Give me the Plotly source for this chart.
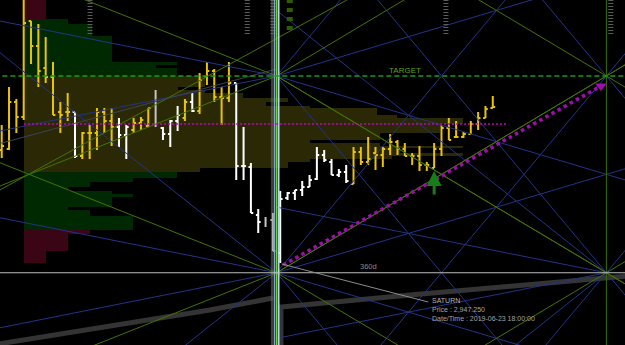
import plotly.graph_objects as go

# ---------------- DATA ----------------
bar_index = list(range(68))
bar_open = [3070,3071,3118,3103,3199,3174,3152,3143,3108,3108,
            3108,3064,3087,3087,3108,3099,3093,3085,3090,3097,
            3094,3112,3092,3086,3099,3102,3118,3109,3143,3149,
            3123,3122,3137,3054,3053,3005,2998,3000,2967,3022,
            3027,3030,3033,3041,3065,3058,3045,3048,3036,3068,
            3058,3067,3065,3071,3078,3071,3064,3064,3055,3052,
            3071,3092,3083,3083,3086,3096,3102,3112]
bar_high = [3095,3133,3121,3225,3199,3196,3183,3158,3118,3127,
            3108,3088,3095,3112,3112,3112,3102,3095,3102,3103,
            3112,3130,3093,3100,3114,3121,3127,3147,3158,3151,
            3133,3158,3137,3093,3057,3011,3003,3007,3029,3028,
            3030,3039,3045,3073,3070,3061,3051,3055,3073,3073,
            3083,3073,3073,3086,3080,3077,3067,3074,3058,3077,
            3095,3102,3099,3088,3099,3108,3114,3124]
bar_low = [3062,3070,3087,3100,3156,3133,3137,3105,3087,3099,
           3062,3061,3061,3070,3087,3074,3073,3061,3087,3090,
           3093,3093,3080,3073,3089,3099,3108,3106,3135,3118,
           3095,3118,3040,3040,3007,2987,2993,2969,2957,3020,
           3020,3024,3033,3040,3058,3045,3043,3037,3036,3055,
           3055,3050,3053,3065,3065,3064,3055,3049,3049,3052,
           3064,3080,3082,3082,3086,3090,3102,3112]
bar_close = [3074,3118,3103,3197,3174,3149,3143,3105,3105,3108,
             3064,3087,3087,3108,3099,3093,3085,3093,3097,3100,
             3112,3098,3086,3099,3105,3118,3109,3140,3149,3123,
             3122,3137,3054,3054,3007,2998,2998,2969,3021,3027,
             3030,3033,3040,3065,3060,3045,3048,3039,3068,3058,
             3061,3065,3071,3078,3071,3064,3064,3055,3055,3071,
             3092,3080,3083,3086,3096,3102,3111,3113]
bar_tone = list("YYYYYYYYYYWYYYYYWWYYYGWWWYWYYYYYWWWWGWWWWWWWWWWWYYYYYYYYYYYYYYYYYYYY")

# volume profile rows (price range, volume, zone)
profile_hi = [3225,3201,3196,3184,3158,3155,3152,
              3144,3133,3130,3127,3122,3118,3114,3112,3105,3102,3096,3087,3080,3077,3074,3072,3067,3064,3061,3058,3052,
              3048,3042,3038,3033,3029,3026,3023,3013,3010,3004,
              2990,2986,2969]
profile_lo = [3201,3196,3184,3158,3155,3152,3144,
              3133,3130,3127,3122,3118,3114,3112,3105,3102,3096,3087,3080,3077,3074,3072,3067,3064,3061,3058,3052,3048,
              3042,3038,3033,3029,3026,3023,3013,3010,3004,2990,
              2986,2969,2957]
profile_vol = [22,44,68,88,153,132,153,
               181,154,181,219,264,242,286,353,373,439,416,356,286,356,439,376,439,368,286,264,176,
               153,109,66,44,88,109,88,44,66,109,
               66,44,22]
profile_zone = ["R","G","G","G","G","G","G",
                "V","V","V","V","V","V","V","V","V","V","V","V","V","V","V","V","V","V","V","V","V",
                "G","G","G","G","G","G","G","G","G","G",
                "R","R","R"]
poc_price = 3096
poc_span = [3.05, 68.9]

# Gann box corners and ray ratios (left-going / right-going)
box_name = ["A", "B", "C", "D"]
box_idx = [37.5, 37.5, 82.5, 82.5]
box_price = [3144, 2947.25, 3144, 2947.25]
rays_left = {"A": [1/3, 2/3], "B": [1/3, 2/3, 4/3], "C": [1, 2], "D": [1/3, 1, 4/3, 2]}
rays_right = {"A": [1/2, 1, 2], "B": [1/2, 1, 2], "C": [1, 2], "D": [1, 2]}
green_ratios = [2/3, 1]

# other trendlines (x index, price)
trend_green_x = [-0.5, 47.1]
trend_green_y = [3029, 3220]
trend_gray_x = [-0.5, 37.5]
trend_gray_y = [3076, 3151]

target_price = 3144
saturn_price = 2947.25
cycle_idx = [37.5, 82.5]

# planetary (saturn) price line, two pieces
saturn_x1 = [-0.5, 28.4, 37.0]
saturn_y1 = [2876, 2910, 2922]
saturn_x2 = [38.1, 38.1, 55.7, 85.5]
saturn_y2 = [2870, 2913, 2925, 2944]

# top cycle markers
stripe_idx = [12.05, 33.5, 37.0, 60.6, 83.1]
green_mark_idx = [39.3]

# projection arrow
proj_x = [38.4, 81.75]
proj_y = [2955, 3134]
signal_idx = [59]
signal_price = [3049]

# ---------------- FIGURE ----------------
YEL = "#e9c20a"
WHT = "#ffffff"
GRY = "#c4c4c4"
BLUE = "#22338a"
GREEN = "#437400"
zone_col = {"R": "#3a0616", "G": "#012901", "V": "#2b2905"}

fig = go.Figure()

fig.add_trace(go.Bar(
    orientation="h",
    y=[(h + l) / 2 for h, l in zip(profile_hi, profile_lo)],
    width=[h - l for h, l in zip(profile_hi, profile_lo)],
    x=profile_vol,
    marker=dict(color=[zone_col[z] for z in profile_zone], line=dict(width=0)),
    xaxis="x", yaxis="y", hoverinfo="skip",
))

def line(x, y, color, width, dash=None):
    d = dict(color=color, width=width)
    if dash:
        d["dash"] = dash
    fig.add_trace(go.Scatter(x=x, y=y, mode="lines", line=d, xaxis="x2", hoverinfo="skip"))

# saturn thick line
line(saturn_x1, saturn_y1, "#343434", 5)
line(saturn_x2, saturn_y2, "#343434", 5)

# gann rays
x_lo, x_hi = -1.0, 86.0
s_unit = (box_price[0] - box_price[1]) / (box_idx[2] - box_idx[0])
segs = {"B": ([], []), "G": ([], [])}
for nm, cx, cy in zip(box_name, box_idx, box_price):
    for direction, ratios in ((-1, rays_left[nm]), (1, rays_right[nm])):
        if direction < 0:
            x_end = x_lo if cx < 50 else box_idx[0]
        else:
            x_end = x_hi
        for r in ratios:
            key = "G" if any(abs(r - g) < 1e-9 for g in green_ratios) else "B"
            for sgn in (1, -1):
                m = sgn * s_unit * r
                segs[key][0].extend([cx, x_end, None])
                segs[key][1].extend([cy, cy + m * (x_end - cx), None])
line(segs["B"][0], segs["B"][1], BLUE, 1)
line(segs["G"][0], segs["G"][1], GREEN, 1)
line(trend_green_x, trend_green_y, GREEN, 1)
line(trend_gray_x, trend_gray_y, "#3c4258", 1)

# top stripes
for sx in stripe_idx:
    line([sx, sx], [3220, 3185], "#5c5c5c", 5, "1px,2px")
for gx in green_mark_idx:
    line([gx, gx], [3221, 3185], "#2f5c00", 6, "4px,5px")

# cycle verticals
c0 = cycle_idx[0]
line([c0 - 0.5, c0 - 0.5], [2875, 3220], "rgba(110,110,110,0.55)", 4)
line([c0 - 0.28, c0 - 0.28], [2875, 3220], "#7ea6c6", 1)
line([c0, c0], [2875, 3220], "#74d034", 2)
line([c0 + 0.3, c0 + 0.3], [2875, 3220], "#b8d6ee", 1.5)
line([cycle_idx[1]] * 2, [2875, 3220], "#3b6e00", 1)

# horizontal levels
line([x_lo, x_hi], [target_price] * 2, "#14a014", 1.5, "5px,3px")
line([x_lo, x_hi], [saturn_price] * 2, "#bdbdbd", 1.2)
line(poc_span, [poc_price] * 2, "#c400c4", 1.5, "2px,2px")

# OHLC bars
for tone, col in (("Y", YEL), ("W", WHT), ("G", GRY)):
    ids = [i for i, t in enumerate(bar_tone) if t == tone]
    xs = [bar_index[i] for i in ids]
    gaps = [b - a for a, b in zip(xs[:-1], xs[1:])]
    mg = min(gaps) if gaps else 1
    fig.add_trace(go.Ohlc(
        x=xs,
        open=[bar_open[i] for i in ids], high=[bar_high[i] for i in ids],
        low=[bar_low[i] for i in ids], close=[bar_close[i] for i in ids],
        increasing=dict(line=dict(color=col, width=2)),
        decreasing=dict(line=dict(color=col, width=2)),
        tickwidth=min(0.5, 0.32 / mg), xaxis="x2", hoverinfo="skip",
    ))

# projection arrow (magenta dotted)
line(proj_x, proj_y, "#a00cb0", 3.5, "dot")
fig.add_trace(go.Scatter(x=[proj_x[1]], y=[proj_y[1]], mode="markers",
                         marker=dict(symbol="triangle-down", size=10, color="#a00cb0"),
                         xaxis="x2", hoverinfo="skip"))

# leader line for saturn label
line([38.2, 58.2], [2956, 2918], "#8c8c8c", 1)

FONT = "Liberation Sans"
ann = []
for sx, sp in zip(signal_idx, signal_price):
    ann.append(dict(x=sx, y=sp, xref="x2", yref="y", ax=sx, ay=sp - 25, axref="x2", ayref="y",
                    showarrow=True, arrowhead=2, arrowsize=1, arrowwidth=3,
                    arrowcolor="#177d17", text=""))
ann.append(dict(x=55.0, y=target_price + 6, xref="x2", yref="y", text="TARGET", showarrow=False,
                font=dict(family=FONT, size=8, color="#5aa01e")))
ann.append(dict(x=50.0, y=saturn_price + 6.5, xref="x2", yref="y", text="360d", showarrow=False,
                font=dict(family=FONT, size=7.5, color="#8a8a8a")))
for txt, py, col in (("SATURN", 2919.5, "#b6b6b6"),
                     ("Price : 2,947.250", 2910.5, "#a4a4a4"),
                     ("Date/Time : 2019-06-23 18:00:00", 2902, "#a4a4a4")):
    ann.append(dict(x=58.45, y=py, xref="x2", yref="y", text=txt, showarrow=False,
                    xanchor="left", font=dict(family=FONT, size=7, color=col)))

fig.update_layout(
    width=625, height=345, margin=dict(l=0, r=0, t=0, b=0),
    paper_bgcolor="#000000", plot_bgcolor="#000000",
    showlegend=False, bargap=0,
    xaxis=dict(range=[-24, 601], visible=False, fixedrange=True),
    xaxis2=dict(range=[-0.232, 85.04], overlaying="x", visible=False,
                rangeslider=dict(visible=False)),
    yaxis=dict(range=[2875, 3220], visible=False),
    annotations=ann,
)

fig.write_html("out.html")
